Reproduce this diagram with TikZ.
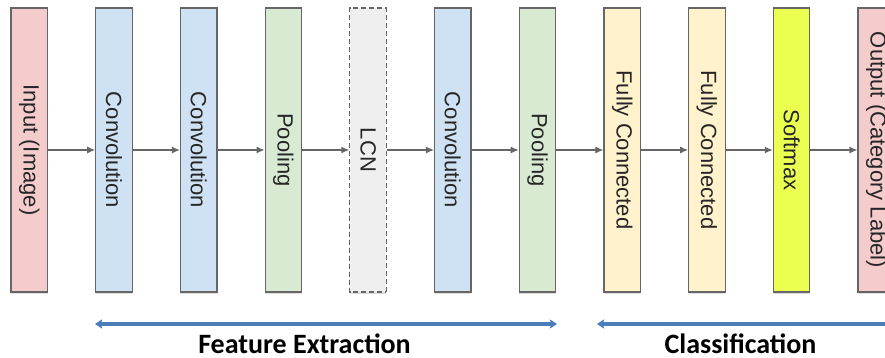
\documentclass[tikz,border=0pt]{standalone}
\usepackage{fontspec}
\usepackage{xcolor}
\usepackage{tikz}
\usetikzlibrary{positioning,arrows.meta,shadows}
\newfontfamily\boxfont{Liberation Sans}
\newfontfamily\capfont{Carlito}
\definecolor{inpink}{HTML}{F4CCCC}
\definecolor{convblue}{HTML}{CFE2F3}
\definecolor{poolgreen}{HTML}{D9EAD3}
\definecolor{lcngray}{HTML}{EFEFEF}
\definecolor{fcyellow}{HTML}{FFF2CC}
\definecolor{smlime}{HTML}{EAFF4F}
\definecolor{edgegray}{HTML}{666666}
\definecolor{phaseblue}{HTML}{4A7EBB}
\tikzset{
  lyr/.style={rectangle, draw=edgegray, line width=1.2pt, rotate=-90,
    minimum width=284pt, minimum height=36.5pt, inner sep=0pt,
    font=\boxfont\fontsize{22}{22}\selectfont, text=black!85,
    drop shadow={shadow xshift=0pt, shadow yshift=-1.5pt, opacity=0.25}},
  inp/.style={lyr, fill=inpink},
  conv/.style={lyr, fill=convblue},
  pool/.style={lyr, fill=poolgreen},
  lcn/.style={lyr, fill=lcngray, dashed, dash pattern=on 5pt off 3pt},
  fc/.style={lyr, fill=fcyellow},
  smax/.style={lyr, fill=smlime},
  flow/.style={draw=edgegray, line width=1.1pt, -{Latex[length=8pt,width=7pt]}},
  phase/.style={draw=phaseblue, line width=3.2pt, {Stealth[length=7pt,width=9pt,inset=1pt]}-{Stealth[length=7pt,width=9pt,inset=1pt]}},
  phaselbl/.style={font=\capfont\bfseries\fontsize{28}{28}\selectfont, anchor=base}
}

\begin{document}
\begin{tikzpicture}[x=1pt, y=-1pt]
    \useasboundingbox (0,0) rectangle (885,358);
    \clip (0,0) rectangle (885,358);
    % layers
    \node[inp]  (in)  at (29.3,150)  {Input (Image)};
    \node[conv] (cv1) at (114.0,150) {Convolution};
    \node[conv] (cv2) at (198.7,150) {Convolution};
    \node[pool] (pl1) at (283.4,150) {Pooling};
    \node[lcn]  (lcn) at (368.1,150) {LCN};
    \node[conv] (cv3) at (452.8,150) {Convolution};
    \node[pool] (pl2) at (537.5,150) {Pooling};
    \node[fc]   (fc1) at (622.2,150) {Fully Connected};
    \node[fc]   (fc2) at (706.9,150) {Fully Connected};
    \node[smax] (sm)  at (791.6,150) {Softmax};
    \node[inp]  (out) at (876.3,150) {Output (Category Label)};
    \draw[flow] (in)--(cv1); \draw[flow] (cv1)--(cv2);
    \draw[flow] (cv2)--(pl1); \draw[flow] (pl1)--(lcn);
    \draw[flow] (lcn)--(cv3); \draw[flow] (cv3)--(pl2);
    \draw[flow] (pl2)--(fc1); \draw[flow] (fc1)--(fc2);
    \draw[flow] (fc2)--(sm); \draw[flow] (sm)--(out);
    % phases
    \coordinate (feL) at (95,324);
    \coordinate (feR) at (557,324);
    \coordinate (clL) at (597,324);
    \coordinate (clR) at (905,324);
    \draw[phase] (feL)--(feR);
    \draw[phase] (clL)--(clR);
    \node[phaselbl] (fe) at (304.5,353) {Feature Extraction};
    \node[phaselbl] (cl) at (740.5,353) {Classification};
  \end{tikzpicture}
\end{document}
